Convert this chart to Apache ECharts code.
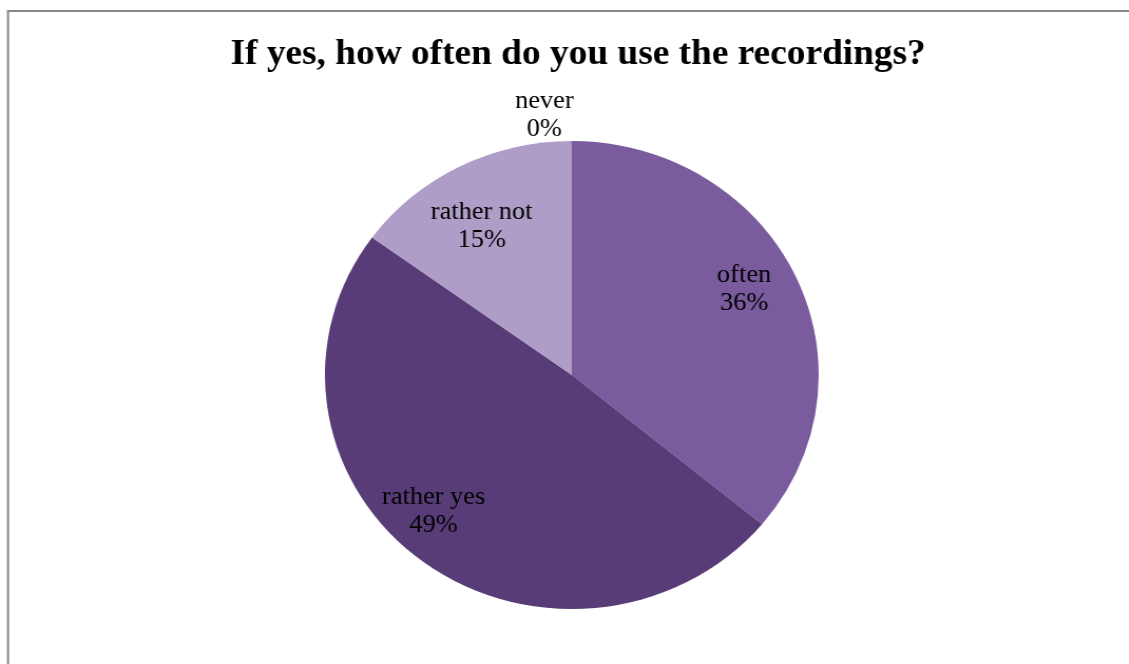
<!DOCTYPE html>
<html>
<head>
<meta charset="utf-8">
<script src="https://cdn.jsdelivr.net/npm/echarts@6/dist/echarts.min.js"></script>
<style>
  html, body { margin: 0; padding: 0; background: #fff; overflow: hidden; }
  /* the chart is drawn slightly narrower and stretched sideways,
     which gives the pie its wide, oval shape */
  #chart { width: 1071px; height: 664px; transform: scaleX(1.055); transform-origin: 0 0; }
</style>
</head>
<body>
<div id="chart"></div>
<script>
// Survey answers, in clockwise order from twelve o'clock
const categories = ['often', 'rather yes', 'rather not', 'never'];
const shares = [36, 49, 15, 0];
const sliceColors = ['#7a5b9e', '#583c77', '#ae9dc7', '#c9bddb'];

const titleText = 'If yes, how often do you use the recordings?';
const serif = '"Liberation Serif", "Times New Roman", serif';

// small nudges for the label blocks, per slice
const labelNudge = [[-5, -6], [-17, -11], [-1, 17]];

const pieCenter = [542, 375];

const pieData = categories.map((name, i) => ({
  name: name,
  value: shares[i],
  itemStyle: { color: sliceColors[i] }
}));

const labelFormatter = p => p.name + '\n' + Math.round(p.percent) + '%';

const chart = echarts.init(document.getElementById('chart'), null, { renderer: 'canvas' });

chart.setOption({
  backgroundColor: '#ffffff',
  animation: false,
  title: {
    text: titleText,
    left: 543,
    textAlign: 'center',
    top: 32,
    textStyle: {
      fontFamily: serif,
      fontWeight: 'bold',
      fontSize: 35.4,
      color: '#000'
    }
  },
  graphic: [{
    type: 'rect',
    shape: { x: 7.6, y: 11, width: 1200, height: 700 },
    style: { fill: 'none', stroke: '#878787', lineWidth: 2 },
    silent: true
  }],
  series: [
    {
      // the slices themselves
      type: 'pie',
      center: pieCenter,
      radius: 234,
      startAngle: 90,
      clockwise: true,
      avoidLabelOverlap: false,
      label: { show: false },
      labelLine: { show: false },
      emphasis: { disabled: true },
      itemStyle: { borderWidth: 0 },
      data: pieData
    },
    {
      // transparent ring carrying the category labels
      type: 'pie',
      center: pieCenter,
      radius: [132, 234],
      startAngle: 90,
      clockwise: true,
      silent: true,
      avoidLabelOverlap: false,
      itemStyle: { color: 'rgba(0,0,0,0)', borderWidth: 0 },
      label: {
        show: true,
        position: 'inside',
        formatter: labelFormatter,
        fontFamily: serif,
        fontSize: 25,
        lineHeight: 28,
        color: '#000'
      },
      labelLine: { show: false },
      labelLayout: function (p) {
        if (p.dataIndex === 3) {
          return { x: 516, y: 115, align: 'center', verticalAlign: 'middle' };
        }
        const n = labelNudge[p.dataIndex];
        return { dx: n[0], dy: n[1] };
      },
      data: categories.map((name, i) => ({ name: name, value: shares[i] }))
    }
  ]
});
</script>
</body>
</html>
